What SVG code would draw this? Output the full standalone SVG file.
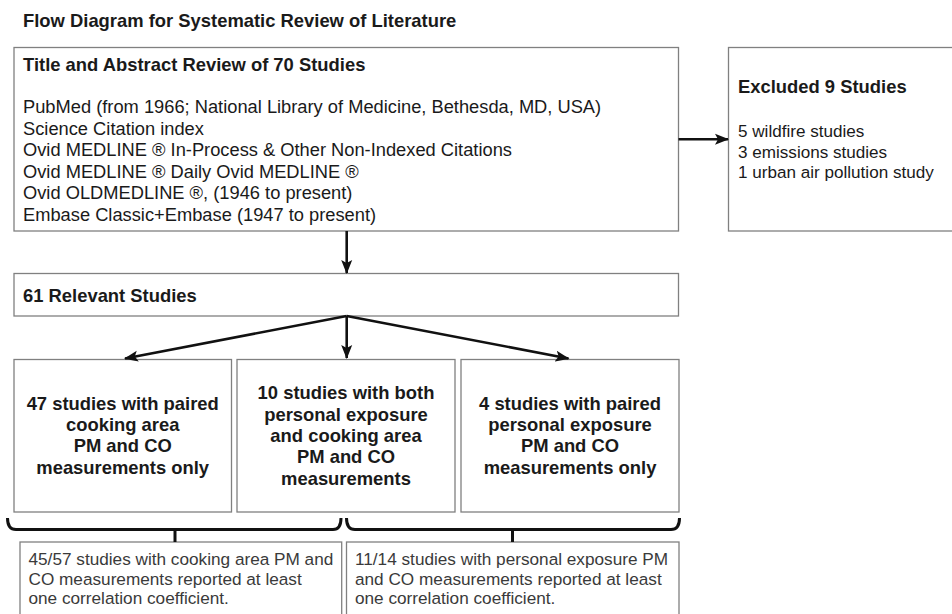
<svg xmlns="http://www.w3.org/2000/svg" width="952" height="614" viewBox="0 0 952 614">
<defs>
<style>
.box{fill:#fff;stroke:#808080;stroke-width:1.3}
.t{font-family:"Liberation Sans",Arial,sans-serif;fill:#1a1a1a}
.body{font-size:18.3px}
.exc{font-size:17.1px}
.small{font-size:17.2px;fill:#3a3a3a}
.hd{font-size:18.4px;font-weight:bold}
.ctr{font-size:18.4px;font-weight:bold;text-anchor:middle}
.conn{fill:none;stroke:#111;stroke-width:2.6}
.brace{fill:none;stroke:#111;stroke-width:3}
</style>
<marker id="ah" markerUnits="userSpaceOnUse" markerWidth="14" markerHeight="12" viewBox="0 0 14 12" refX="13" refY="6" orient="auto">
<polygon points="0,0.5 14,6 0,11.5 3,6" fill="#111"/>
</marker>
</defs>
<rect width="952" height="614" fill="#fff"/>
<text class="t hd" x="23" y="27">Flow Diagram for Systematic Review of Literature</text>

<g id="review">
<rect class="box" x="14" y="47.5" width="664.5" height="183.5"/>
<text class="t hd" x="23" y="71">Title and Abstract Review of 70 Studies</text>
<text class="t body" x="23" y="113">PubMed (from 1966; National Library of Medicine, Bethesda, MD, USA)</text>
<text class="t body" x="23" y="134.5">Science Citation index</text>
<text class="t body" x="23" y="156">Ovid MEDLINE ® In-Process &amp; Other Non-Indexed Citations</text>
<text class="t body" x="23" y="177.5">Ovid MEDLINE ® Daily Ovid MEDLINE ®</text>
<text class="t body" x="23" y="199">Ovid OLDMEDLINE ®, (1946 to present)</text>
<text class="t body" x="23" y="220.5">Embase Classic+Embase (1947 to present)</text>
</g>

<g id="excluded">
<rect class="box" x="728.5" y="47.5" width="240" height="183.5"/>
<text class="t hd" x="738" y="93">Excluded 9 Studies</text>
<text class="t exc" x="738" y="136.5">5 wildfire studies</text>
<text class="t exc" x="738" y="157.5">3 emissions studies</text>
<text class="t exc" x="738" y="178">1 urban air pollution study</text>
</g>

<g id="relevant">
<rect class="box" x="14" y="273.5" width="664.5" height="42.5"/>
<text class="t hd" x="23" y="301.5">61 Relevant Studies</text>
</g>

<g id="cooking">
<rect class="box" x="14" y="359.5" width="217.5" height="152.5"/>
<text class="t ctr" x="122.7" y="410">47 studies with paired</text>
<text class="t ctr" x="122.7" y="431">cooking area</text>
<text class="t ctr" x="122.7" y="452">PM and CO</text>
<text class="t ctr" x="122.7" y="474">measurements only</text>
</g>

<g id="both">
<rect class="box" x="237" y="359.5" width="218" height="152.5"/>
<text class="t ctr" x="346" y="399">10 studies with both</text>
<text class="t ctr" x="346" y="420.5">personal exposure</text>
<text class="t ctr" x="346" y="441.5">and cooking area</text>
<text class="t ctr" x="346" y="463">PM and CO</text>
<text class="t ctr" x="346" y="484.5">measurements</text>
</g>

<g id="personal">
<rect class="box" x="461" y="359.5" width="218" height="152.5"/>
<text class="t ctr" x="570" y="410">4 studies with paired</text>
<text class="t ctr" x="570" y="431">personal exposure</text>
<text class="t ctr" x="570" y="452">PM and CO</text>
<text class="t ctr" x="570" y="474">measurements only</text>
</g>

<g id="cooking-corr">
<rect class="box" x="20" y="542" width="321.7" height="90"/>
<text class="t small" x="28.5" y="565">45/57 studies with cooking area PM and</text>
<text class="t small" x="28.5" y="584.5">CO measurements reported at least</text>
<text class="t small" x="28.5" y="604">one correlation coefficient.</text>
</g>

<g id="personal-corr">
<rect class="box" x="346.5" y="542" width="332.5" height="90"/>
<text class="t small" x="355" y="565">11/14 studies with personal exposure PM</text>
<text class="t small" x="355" y="584.5">and CO measurements reported at least</text>
<text class="t small" x="355" y="604">one correlation coefficient.</text>
</g>

<g id="connectors">
<line class="conn" x1="678.5" y1="139.3" x2="728" y2="139.3" marker-end="url(#ah)"/>
<line class="conn" x1="346.7" y1="231" x2="346.7" y2="273" marker-end="url(#ah)"/>
<line class="conn" x1="346.7" y1="316" x2="125" y2="358.5" marker-end="url(#ah)"/>
<line class="conn" x1="346.7" y1="316" x2="346.7" y2="358" marker-end="url(#ah)"/>
<line class="conn" x1="346.7" y1="316" x2="568.5" y2="358.5" marker-end="url(#ah)"/>
<path class="brace" d="M7.5,518 Q7.5,529.5 16,529.5 L333,529.5 Q341,529.5 341,518"/>
<path class="brace" d="M175,529.5 V542"/>
<path class="brace" d="M346.5,518 Q346.5,529.5 355,529.5 L671,529.5 Q679.5,529.5 679.5,518"/>
<path class="brace" d="M512.5,529.5 V542"/>
</g>
</svg>
